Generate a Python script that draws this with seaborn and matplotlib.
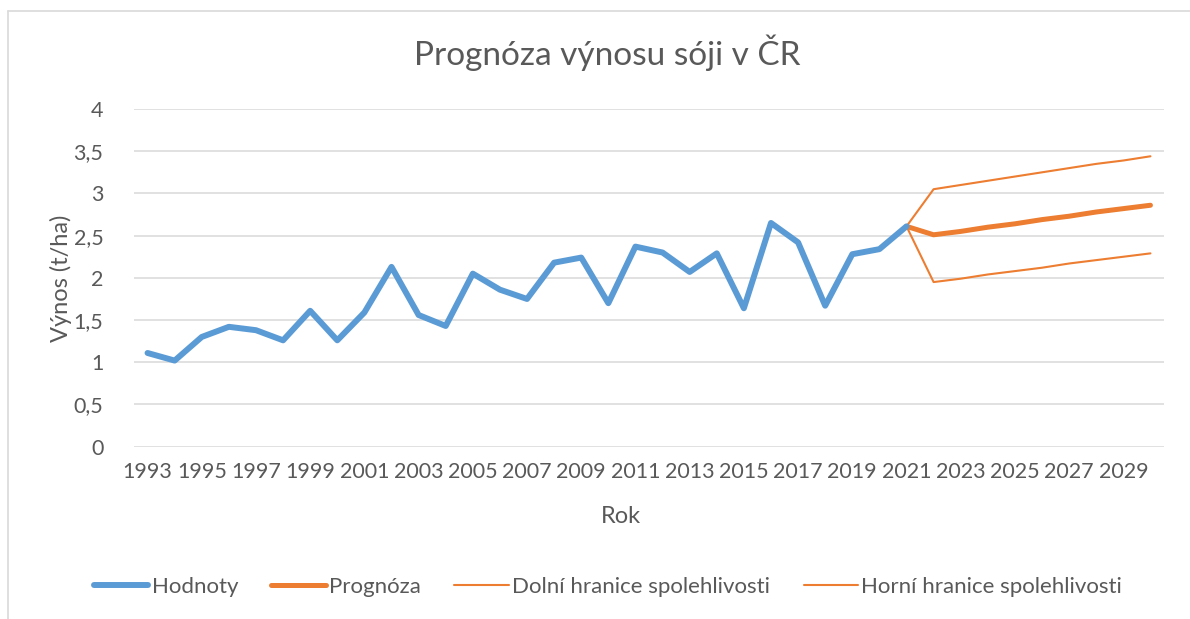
import matplotlib
matplotlib.use("Agg")
import matplotlib.pyplot as plt
import seaborn as sns
import pandas as pd
from matplotlib.lines import Line2D

# ---- data ----
years_hist = list(range(1993, 2022))
hodnoty = [1.11, 1.02, 1.30, 1.42, 1.38, 1.26, 1.61, 1.26, 1.59, 2.13,
           1.56, 1.43, 2.05, 1.86, 1.75, 2.18, 2.24, 1.70, 2.37, 2.30,
           2.07, 2.29, 1.64, 2.65, 2.42, 1.67, 2.28, 2.34, 2.61]
years_fc = list(range(2021, 2031))
prognoza = [2.61, 2.51, 2.55, 2.60, 2.64, 2.69, 2.73, 2.78, 2.82, 2.86]
dolni = [2.61, 1.95, 1.99, 2.04, 2.08, 2.12, 2.17, 2.21, 2.25, 2.29]
horni = [2.61, 3.05, 3.10, 3.15, 3.20, 3.25, 3.30, 3.35, 3.39, 3.44]
xtick_labels = [str(y) for y in range(1993, 2030, 2)]
yticks = [0, 0.5, 1, 1.5, 2, 2.5, 3, 3.5, 4]

title = "Prognóza výnosu sóji v ČR"
xlabel = "Rok"
ylabel = "Výnos (t/ha)"
names = ["Hodnoty", "Prognóza", "Dolní hranice spolehlivosti", "Horní hranice spolehlivosti"]

# ---- style ----
sns.set_theme(style="white")
plt.rcParams["font.family"] = ["Lato", "DejaVu Sans"]
TXT = "#595959"
GRID = "#d9d9d9"
BLUE = "#5B9BD5"
ORANGE = "#ED7D31"

W, H = 1190, 619
fig = plt.figure(figsize=(W / 100, H / 100), dpi=100)
ax = fig.add_axes([134 / W, 1 - 446.7 / H, (1164 - 134) / W, (446.7 - 109) / H])

df_h = pd.DataFrame({"Rok": years_hist, "v": hodnoty})
df_p = pd.DataFrame({"Rok": years_fc, "v": prognoza})
df_d = pd.DataFrame({"Rok": years_fc, "v": dolni})
df_u = pd.DataFrame({"Rok": years_fc, "v": horni})

kw = dict(solid_capstyle="round", solid_joinstyle="round")
sns.lineplot(data=df_d, x="Rok", y="v", ax=ax, color=ORANGE, linewidth=1.5, **kw)
sns.lineplot(data=df_u, x="Rok", y="v", ax=ax, color=ORANGE, linewidth=1.5, **kw)
sns.lineplot(data=df_p, x="Rok", y="v", ax=ax, color=ORANGE, linewidth=3.6, **kw)
sns.lineplot(data=df_h, x="Rok", y="v", ax=ax, color=BLUE, linewidth=4.3, **kw)

ax.set_xlim(1992.5, 2030.5)
ax.set_ylim(0, 4)
ax.set_yticks(yticks)
ax.set_yticklabels([("%g" % t).replace(".", ",") for t in yticks])
ax.set_xticks(list(range(1993, 2030, 2)))
ax.set_xticklabels(xtick_labels)
ax.grid(axis="y", color=GRID, linewidth=1.1)
ax.grid(axis="x", visible=False)
for s in ax.spines.values():
    s.set_visible(False)
ax.tick_params(axis="both", length=0, labelsize=15.5, colors=TXT)
ax.tick_params(axis="y", pad=22)
ax.tick_params(axis="x", pad=11)
ax.set_xlabel(xlabel, fontsize=17, color=TXT)
ax.set_ylabel(ylabel, fontsize=17, color=TXT)
ax.xaxis.set_label_coords((621 - 134) / (1164 - 134), -(506 - 446.7) / (446.7 - 109))
ax.yaxis.set_label_coords(-(134 - 72) / (1164 - 134), 0.5)

fig.text(607 / W, 1 - 53 / H, title, ha="center", va="center", fontsize=24, color=TXT)

handles = [
    Line2D([], [], color=BLUE, linewidth=4.3, solid_capstyle="round"),
    Line2D([], [], color=ORANGE, linewidth=3.6, solid_capstyle="round"),
    Line2D([], [], color=ORANGE, linewidth=1.5),
    Line2D([], [], color=ORANGE, linewidth=1.5),
]
leg = fig.legend(handles, names, loc="center", bbox_to_anchor=(608 / W, 1 - 587 / H),
                 ncol=4, frameon=False, fontsize=16, handlelength=2.45, handletextpad=0.15,
                 columnspacing=1.5, labelcolor=TXT)

# chart border (partially cropped)
fig.add_artist(Line2D([8 / W, 8 / W], [0, 1 - 10.5 / H], transform=fig.transFigure, color=GRID, linewidth=1.2))
fig.add_artist(Line2D([8 / W, 1], [1 - 10.5 / H, 1 - 10.5 / H], transform=fig.transFigure, color=GRID, linewidth=1.2))

fig.savefig("out.png", dpi=100, facecolor="white")
